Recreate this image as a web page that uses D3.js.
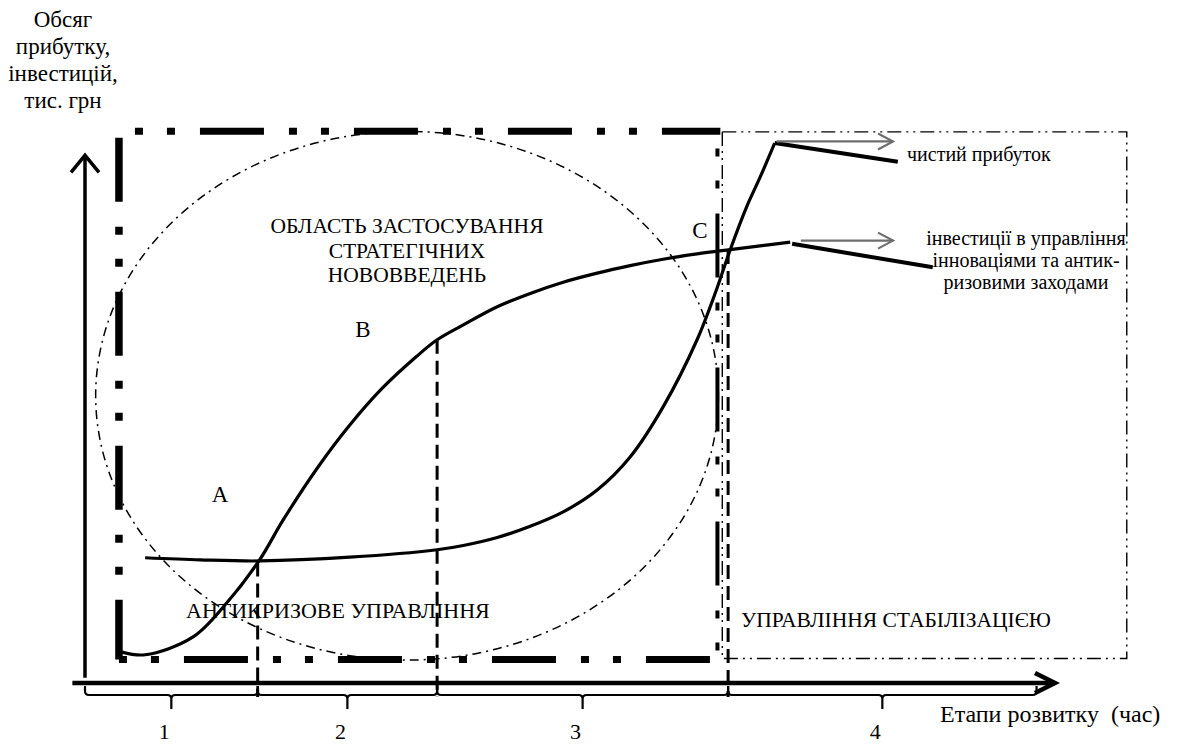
<!DOCTYPE html>
<html>
<head>
<meta charset="utf-8">
<script src="https://cdn.jsdelivr.net/npm/d3@7"></script>
<style>
  body { margin: 0; background: #fff; }
</style>
</head>
<body>
<div id="chart"></div>
<script>
// stages of development (time axis)
var stages = ['1', '2', '3', '4'];
var stageBounds = [0, 17.8, 36.3, 66.3, 98.1];

// investments in innovation / anti-crisis management (S-curve)
var investX = [3.8, 6.2, 11.1, 14.6, 18.0, 20.4, 23.9, 27.3, 30.7, 34.2, 36.3, 39.0, 42.5, 45.9, 49.3, 52.8, 56.2, 59.6, 63.1, 66.5, 69.6, 72.7];
var investY = [5.8, 5.3, 8.6, 15.0, 23.1, 30.5, 40.2, 48.4, 55.4, 61.3, 64.4, 67.2, 70.6, 73.1, 75.2, 76.9, 78.3, 79.5, 80.5, 81.3, 82.0, 82.7];

// net profit
var profitX = [6.2, 11.9, 18.0, 27.3, 36.3, 39.0, 42.5, 45.9, 49.3, 52.8, 56.2, 59.6, 63.1, 65.2, 66.5, 68.2, 69.6, 71.1];
var profitY = [23.5, 23.1, 22.9, 23.6, 25.0, 25.8, 27.3, 29.4, 32.1, 36.2, 42.4, 51.8, 64.4, 74.3, 81.2, 89.3, 94.9, 101.3];

// leader lines to the legend texts
var profitTail = [[71.1, 101.3], [83.8, 97.8]];
var investTail = [[72.9, 82.4], [87.4, 78.0]];
var profitArrow = [[71.3, 101.6], [83.3, 101.6]];
var investArrow = [[73.8, 83.0], [83.3, 83.0]];

// regions: [x0, x1, y0, y1]
var crisisBox = [3.5, 65.2, 4.4, 103.5];
var stabBox = [65.7, 107.4, 4.6, 103.4];
// innovation area ellipse: [cx, cy, rx, ry]
var innovEllipse = [33.2, 53.9, 32.1, 49.6];

var yTitle = ['Обсяг', 'прибутку,', 'інвестицій,', 'тис. грн'];
var innovTitle = ['ОБЛАСТЬ ЗАСТОСУВАННЯ', 'СТРАТЕГІЧНИХ', 'НОВОВВЕДЕНЬ'];
var investTitle = ['інвестиції в управління', 'інноваціями та антик-', 'ризовими заходами'];

var width = 1189, height = 745;
var serif = '"Liberation Serif"';

var svg = d3.select('#chart').append('svg')
  .attr('width', width)
  .attr('height', height);

var x = d3.scaleLinear().domain([0, 100]).range([85, 1055]);
var y = d3.scaleLinear().domain([0, 100]).range([683, 150]);

var line = d3.line()
  .x(function (d) { return x(d[0]); })
  .y(function (d) { return y(d[1]); });

// heavy dash-dot-dot box (anti-crisis management)
var heavyDash = '64,25,8,24,8,25';
function side(x1, y1, x2, y2, w, off) {
  svg.append('line')
    .attr('x1', x(x1)).attr('y1', y(y1))
    .attr('x2', x(x2)).attr('y2', y(y2))
    .attr('stroke', '#000')
    .attr('stroke-width', w)
    .attr('stroke-dasharray', heavyDash)
    .attr('stroke-dashoffset', off);
}
side(crisisBox[0], crisisBox[3], crisisBox[1] + 0.3, crisisBox[3], 7, 73);
side(crisisBox[0], crisisBox[2], crisisBox[1], crisisBox[2], 7, 89);
side(crisisBox[0], crisisBox[3] - 1.2, crisisBox[0], crisisBox[2], 7.5, 0);
side(crisisBox[1], crisisBox[2], crisisBox[1], crisisBox[3], 4, 80);

// thin dash-dot-dot box (stabilisation)
svg.append('rect')
  .attr('x', x(stabBox[0]))
  .attr('y', y(stabBox[3]))
  .attr('width', x(stabBox[1]) - x(stabBox[0]))
  .attr('height', y(stabBox[2]) - y(stabBox[3]))
  .attr('fill', 'none')
  .attr('stroke', '#000')
  .attr('stroke-width', 1.4)
  .attr('stroke-dasharray', '14,5,2,5,2,5');

// innovation ellipse
svg.append('ellipse')
  .attr('cx', x(innovEllipse[0]))
  .attr('cy', y(innovEllipse[1]))
  .attr('rx', x(innovEllipse[2]) - x(0))
  .attr('ry', y(0) - y(innovEllipse[3]))
  .attr('fill', 'none')
  .attr('stroke', '#000')
  .attr('stroke-width', 1.5)
  .attr('stroke-dasharray', '9,5,2,5');

// stage boundaries, dashed from the investment curve down
var investAt = d3.scaleLinear().domain(investX).range(investY);
svg.selectAll('.bound')
  .data(stageBounds.slice(1, 4))
  .enter()
  .append('line')
  .attr('class', 'bound')
  .attr('x1', function (d) { return x(d); })
  .attr('x2', function (d) { return x(d); })
  .attr('y1', function (d) { return y(investAt(d)); })
  .attr('y2', y(0) + 14)
  .attr('stroke', '#000')
  .attr('stroke-width', 3)
  .attr('stroke-dasharray', '14,7');

// curves
var smooth = d3.line()
  .x(function (d) { return x(d[0]); })
  .y(function (d) { return y(d[1]); })
  .curve(d3.curveCatmullRom.alpha(0.5));

svg.append('path')
  .datum(d3.zip(investX, investY))
  .attr('d', smooth)
  .attr('fill', 'none')
  .attr('stroke', '#000')
  .attr('stroke-width', 3.2);

svg.append('path')
  .datum(d3.zip(profitX, profitY))
  .attr('d', smooth)
  .attr('fill', 'none')
  .attr('stroke', '#000')
  .attr('stroke-width', 3.2);

[profitTail, investTail].forEach(function (t) {
  svg.append('path')
    .datum(t)
    .attr('d', line)
    .attr('fill', 'none')
    .attr('stroke', '#000')
    .attr('stroke-width', 4);
});

// grey arrows to the legend
[profitArrow, investArrow].forEach(function (a) {
  var x2 = x(a[1][0]), yy = y(a[1][1]);
  svg.append('path')
    .datum(a)
    .attr('d', line)
    .attr('fill', 'none')
    .attr('stroke', '#6e6e6e')
    .attr('stroke-width', 2.2);
  svg.append('path')
    .attr('d', 'M' + (x2 - 15) + ',' + (yy - 8) + 'L' + x2 + ',' + yy + 'L' + (x2 - 15) + ',' + (yy + 8))
    .attr('fill', 'none')
    .attr('stroke', '#6e6e6e')
    .attr('stroke-width', 2.2);
});

// axes
svg.append('line')
  .attr('x1', x(0)).attr('y1', y(1))
  .attr('x2', x(0)).attr('y2', y(99))
  .attr('stroke', '#000').attr('stroke-width', 3.5);
svg.append('path')
  .attr('d', 'M' + (x(0) - 14) + ',' + (y(99) + 17) + 'L' + x(0) + ',' + y(99) + 'L' + (x(0) + 14) + ',' + (y(99) + 17))
  .attr('fill', 'none').attr('stroke', '#000').attr('stroke-width', 3.5);

svg.append('line')
  .attr('x1', x(-1.3)).attr('y1', y(0))
  .attr('x2', x(100)).attr('y2', y(0))
  .attr('stroke', '#000').attr('stroke-width', 4.5);
svg.append('path')
  .attr('d', 'M' + (x(100) - 20) + ',' + (y(0) - 10) + 'L' + x(100) + ',' + y(0) + 'L' + (x(100) - 20) + ',' + (y(0) + 10))
  .attr('fill', 'none').attr('stroke', '#000').attr('stroke-width', 4.5);

// braces under the time axis
function brace(a, b) {
  var ya = y(0) + 3, yh = y(0) + 12, yt = y(0) + 26, m = (a + b) / 2;
  return 'M' + a + ',' + ya + 'L' + a + ',' + (yh - 4) + 'Q' + a + ',' + yh + ' ' + (a + 4) + ',' + yh +
    'L' + (m - 4) + ',' + yh + 'Q' + m + ',' + yh + ' ' + m + ',' + (yh + 4) + 'L' + m + ',' + yt +
    'M' + m + ',' + (yh + 4) + 'Q' + m + ',' + yh + ' ' + (m + 4) + ',' + yh +
    'L' + (b - 4) + ',' + yh + 'Q' + b + ',' + yh + ' ' + b + ',' + (yh - 4) + 'L' + b + ',' + ya;
}
var stageData = stages.map(function (s, i) {
  return {name: s, a: stageBounds[i], b: stageBounds[i + 1]};
});
svg.selectAll('.brace')
  .data(stageData)
  .enter()
  .append('path')
  .attr('class', 'brace')
  .attr('d', function (d) { return brace(x(d.a), x(d.b)); })
  .attr('fill', 'none')
  .attr('stroke', '#000')
  .attr('stroke-width', 2.2);

svg.selectAll('.stage')
  .data(stageData)
  .enter()
  .append('text')
  .attr('class', 'stage')
  .attr('x', function (d) { return (x(d.a) + x(d.b)) / 2 - 7; })
  .attr('y', 739)
  .attr('text-anchor', 'middle')
  .style('font-family', serif)
  .style('font-size', '22px')
  .text(function (d) { return d.name; });

// texts
function lines(arr, cx, y0, dy, size) {
  svg.append('g').selectAll('text')
    .data(arr)
    .enter()
    .append('text')
    .attr('x', cx)
    .attr('y', function (d, i) { return y0 + i * dy; })
    .attr('text-anchor', 'middle')
    .style('font-family', serif)
    .style('font-size', size)
    .text(function (d) { return d; });
}
lines(yTitle, 63, 27, 27, '23px');
lines(innovTitle, 407, 233, 24.5, '21.5px');
lines(investTitle, 1026, 245, 22, '20px');

function label(txt, px, py, size, anchor) {
  svg.append('text')
    .attr('x', px).attr('y', py)
    .attr('text-anchor', anchor || 'start')
    .style('font-family', serif)
    .style('font-size', size)
    .style('white-space', 'pre')
    .text(txt);
}
label('A', 220, 502, '23px', 'middle');
label('B', 363, 337, '23px', 'middle');
label('C', 700, 238, '23px', 'middle');
label('АНТИКРИЗОВЕ УПРАВЛІННЯ', 186, 618, '22px');
label('УПРАВЛІННЯ СТАБІЛІЗАЦІЄЮ', 741, 627, '21.5px');
label('чистий прибуток', 907, 161, '20px');
label('Етапи розвитку  (час)', 940, 722, '24px');
</script>
</body>
</html>
